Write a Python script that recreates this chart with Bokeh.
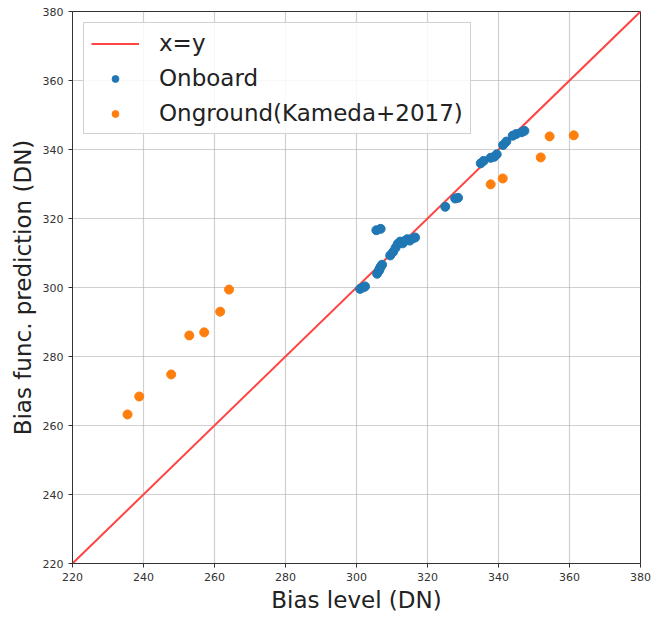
from bokeh.plotting import figure
from bokeh.embed import file_html
from bokeh.resources import INLINE
from bokeh.models import Legend, LegendItem, FixedTicker

onboard_x = [301.0, 301.8, 302.4, 305.8, 306.3, 306.5, 306.8, 307.2, 309.5, 310.3,
             311.0, 311.6, 312.3, 313.0, 313.6, 314.3, 315.0, 315.8, 316.5, 305.6,
             306.8, 325.0, 327.8, 328.6, 335.0, 335.8, 337.8, 338.8, 339.5, 341.3,
             342.2, 344.0, 345.0, 346.5, 347.3]
onboard_y = [299.6, 300.0, 300.3, 304.0, 304.8, 305.4, 306.0, 306.6, 309.3, 310.3,
             311.5, 312.6, 313.3, 312.8, 313.5, 314.0, 313.6, 314.2, 314.5, 316.6,
             317.0, 323.4, 325.8, 326.0, 336.0, 336.7, 337.6, 337.9, 338.6, 341.3,
             342.3, 344.0, 344.5, 345.0, 345.4]
onground_x = [235.5, 238.8, 247.8, 252.9, 257.1, 261.6, 264.1, 337.8, 341.2, 351.9, 354.4, 361.2]
onground_y = [263.2, 268.4, 274.8, 286.1, 287.0, 293.0, 299.4, 329.9, 331.6, 337.7, 343.8, 344.1]
line_xy = [220, 380]
ticks = [220, 240, 260, 280, 300, 320, 340, 360, 380]

p = figure(width=652, height=619, x_range=(220, 380), y_range=(220, 380),
           output_backend="svg", toolbar_location=None,
           min_border_left=72, min_border_right=12, min_border_top=11, min_border_bottom=56)
p.background_fill_color = "white"
p.border_fill_color = "white"
p.outline_line_color = "#333333"
p.outline_line_width = 1

for ax in (p.xaxis, p.yaxis):
    ax.ticker = FixedTicker(ticks=ticks)
    ax.major_label_text_font = "DejaVu Sans"
    ax.major_label_text_font_size = "11px"
    ax.major_label_text_color = "#333333"
    ax.axis_label_text_font = "DejaVu Sans"
    ax.axis_label_text_font_size = "23px"
    ax.axis_label_text_font_style = "normal"
    ax.axis_label_text_color = "#222222"
    ax.minor_tick_line_color = None
    ax.major_tick_in = 0
    ax.major_tick_out = 4
    ax.axis_line_color = "#333333"
    ax.major_tick_line_color = "#333333"
p.xaxis.axis_label = "Bias level (DN)"
p.yaxis.axis_label = "Bias func. prediction (DN)"
p.xaxis.axis_label_standoff = 3
p.yaxis.axis_label_standoff = 4

p.xgrid.ticker = FixedTicker(ticks=ticks)
p.ygrid.ticker = FixedTicker(ticks=ticks)
p.grid.grid_line_color = "#b0b0b0"
p.grid.grid_line_alpha = 0.6
p.grid.grid_line_width = 1.2

r_line = p.line(line_xy, line_xy, line_color="#ff4444", line_width=2)
r_on = p.scatter(onboard_x, onboard_y, size=9, fill_color="#1f77b4", line_color="#1f77b4")
r_og = p.scatter(onground_x, onground_y, size=9, fill_color="#ff7f0e", line_color="#ff7f0e")

legend = Legend(items=[LegendItem(label="x=y", renderers=[r_line]),
                       LegendItem(label="Onboard", renderers=[r_on]),
                       LegendItem(label="Onground(Kameda+2017)", renderers=[r_og])],
                location="top_left")
legend.label_text_font = "DejaVu Sans"
legend.label_text_font_size = "23px"
legend.label_text_color = "#222222"
legend.glyph_width = 48
legend.glyph_height = 17
legend.label_height = 26
legend.spacing = 9
legend.padding = 7
legend.margin = 11
legend.label_standoff = 20
legend.border_line_color = "#cccccc"
legend.border_line_alpha = 0.9
legend.background_fill_alpha = 0.85
p.add_layout(legend)

open("out.html", "w").write(file_html(p, INLINE))
